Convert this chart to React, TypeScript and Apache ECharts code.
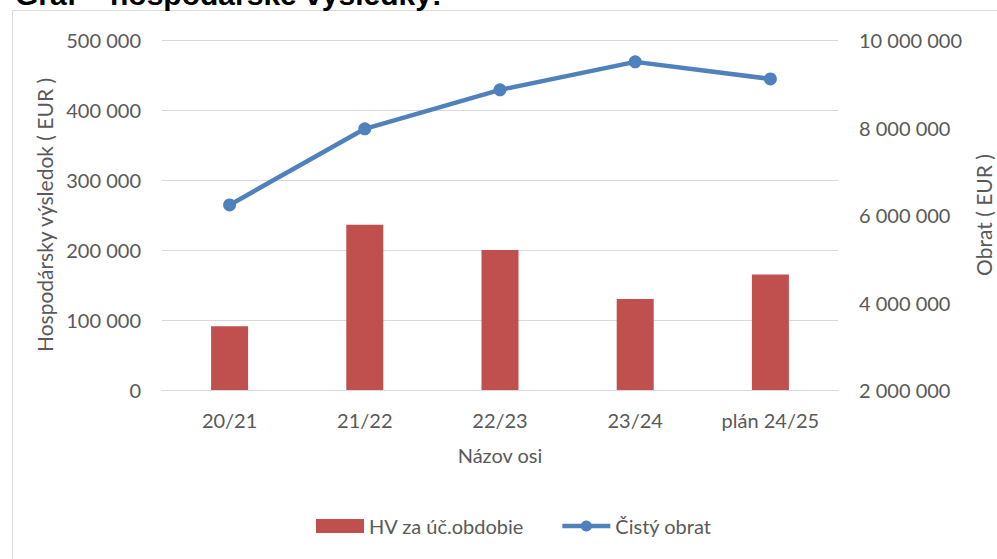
import React, { useEffect, useRef } from "react";
import * as echarts from "echarts";

const categories = ["20/21", "21/22", "22/23", "23/24", "plán 24/25"];
const hvValues = [91000, 236000, 200000, 130000, 165000];
const obratValues = [6230000, 7970000, 8860000, 9500000, 9110000];
const leftTicks = { min: 0, max: 500000, interval: 100000 };
const rightTicks = { min: 2000000, max: 10000000, interval: 2000000 };

const fmt = (v: number) => String(v).replace(/\B(?=(\d{3})+(?!\d))/g, " ");

const FONT = "Lato";
const TXT = "#595959";

export default function App() {
  const ref = useRef<HTMLDivElement>(null);
  useEffect(() => {
    if (!ref.current) return;
    const chart = echarts.init(ref.current, undefined, { renderer: "svg" });
    chart.setOption({
      animation: false,
      backgroundColor: "#ffffff",
      textStyle: { fontFamily: FONT, color: TXT },
      graphic: [
        {
          type: "rect",
          shape: { x: 12.5, y: 10.5, width: 1100, height: 700 },
          style: { fill: "none", stroke: "#D9D9D9", lineWidth: 1 },
          silent: true,
        },
        {
          type: "text",
          left: 15,
          top: -21,
          style: {
            text: "Graf – hospodárske výsledky:",
            font: "bold 30px 'Liberation Sans', Arial, sans-serif",
            fill: "#000000",
          },
        },
      ],
      grid: {
        left: 162,
        right: 159,
        top: 40,
        bottom: 169,
        containLabel: false,
        outerBoundsMode: "none",
      },
      legend: {
        left: 316,
        top: 516,
        padding: 0,
        itemWidth: 48,
        itemHeight: 14,
        itemGap: 36,
        textStyle: { fontFamily: FONT, fontSize: 20, color: TXT },
        data: [
          { name: "HV za úč.obdobie", icon: "rect" },
          { name: "Čistý obrat", lineStyle: { width: 4.5 } },
        ],
      },
      xAxis: {
        type: "category",
        data: categories,
        name: "Názov osi",
        nameLocation: "middle",
        nameGap: 55,
        nameTextStyle: { fontFamily: FONT, fontSize: 20, color: TXT },
        axisLine: { lineStyle: { color: "#D9D9D9", width: 1 } },
        axisTick: { show: false },
        axisLabel: { fontFamily: FONT, fontSize: 20, color: TXT, margin: 20 },
      },
      yAxis: [
        {
          type: "value",
          min: leftTicks.min,
          max: leftTicks.max,
          interval: leftTicks.interval,
          name: "Hospodársky výsledok ( EUR )",
          nameLocation: "middle",
          nameGap: 107,
          nameTextStyle: { fontFamily: FONT, fontSize: 21, color: TXT },
          axisLine: { show: false },
          axisTick: { show: false },
          splitLine: { lineStyle: { color: "#D9D9D9", width: 1 } },
          axisLabel: {
            fontFamily: FONT,
            fontSize: 20,
            color: TXT,
            margin: 21,
            formatter: (v: number) => fmt(v),
          },
        },
        {
          type: "value",
          min: rightTicks.min,
          max: rightTicks.max,
          interval: rightTicks.interval,
          name: "Obrat ( EUR )",
          nameLocation: "middle",
          nameGap: 135,
          nameTextStyle: { fontFamily: FONT, fontSize: 21, color: TXT },
          axisLine: { show: false },
          axisTick: { show: false },
          splitLine: { show: false },
          axisLabel: {
            fontFamily: FONT,
            fontSize: 20,
            color: TXT,
            margin: 21,
            formatter: (v: number) => fmt(v),
          },
        },
      ],
      series: [
        {
          name: "HV za úč.obdobie",
          type: "bar",
          yAxisIndex: 0,
          data: hvValues,
          barWidth: 37,
          itemStyle: { color: "#C0504D" },
        },
        {
          name: "Čistý obrat",
          type: "line",
          yAxisIndex: 1,
          data: obratValues,
          symbol: "circle",
          symbolSize: 13,
          lineStyle: { color: "#4F81BD", width: 4.5 },
          itemStyle: { color: "#4F81BD" },
        },
      ],
    });
    return () => chart.dispose();
  }, []);
  return (
    <div
      ref={ref}
      style={{ position: "fixed", left: 0, top: 0, width: 997, height: 559 }}
    />
  );
}
